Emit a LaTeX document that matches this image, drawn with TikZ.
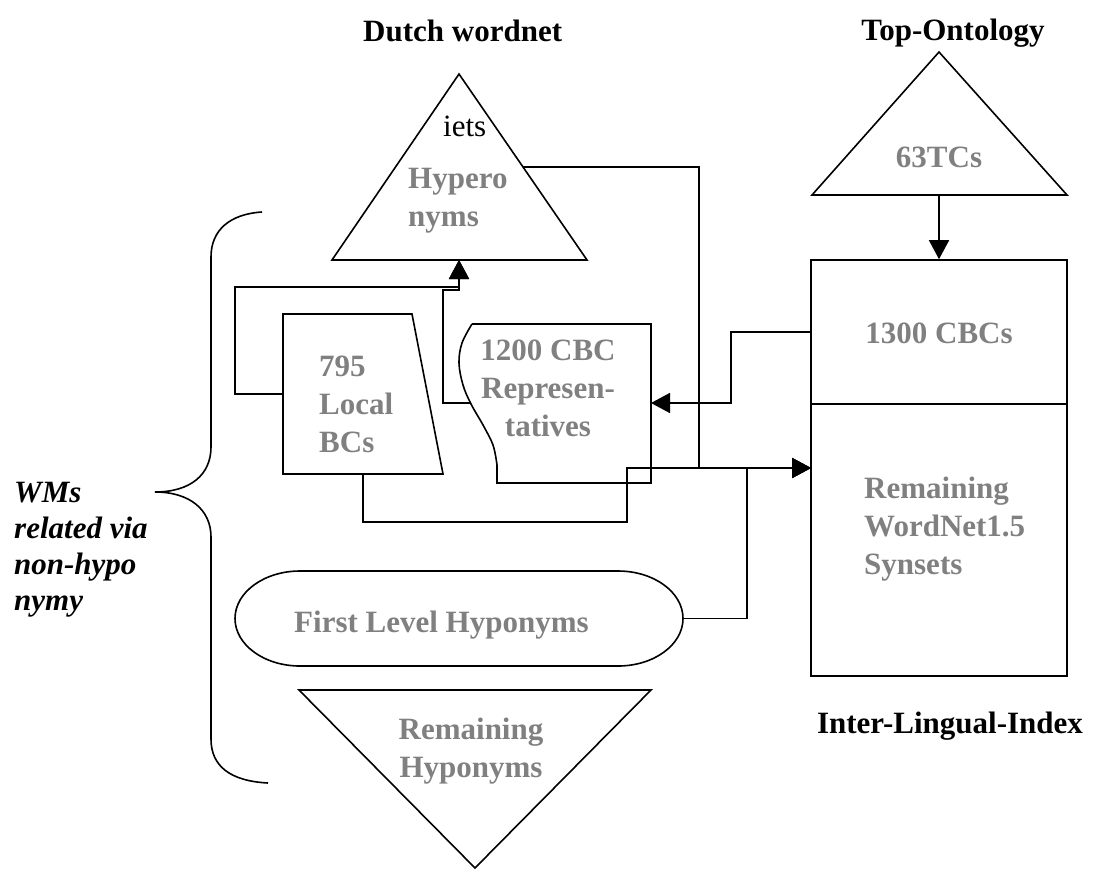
\documentclass[tikz,border=0pt]{standalone}
\usepackage{fontspec}
\setmainfont{Liberation Serif}
\usetikzlibrary{arrows.meta}
\definecolor{txtgray}{HTML}{808080}
\begin{document}
\begin{tikzpicture}[x=1pt,y=-1pt,
  shapeline/.style={draw=black, line width=1.6pt, line join=miter},
  conn/.style={draw=black, line width=1.6pt},
  arr/.style={conn, -{Triangle[length=19pt,width=20pt]}},
  lbl/.style={inner sep=0pt, font=\fontsize{31}{38}\selectfont\bfseries, text=txtgray},
  ttl/.style={inner sep=0pt, font=\fontsize{31}{38}\selectfont\bfseries, text=black},
  boxnode/.style={shapeline, rectangle, inner sep=0pt, minimum width=256pt}]
\useasboundingbox (0,0) rectangle (1099,870);

% titles
\node[ttl, anchor=base west] (tdutch) at (363,41) {Dutch wordnet};
\node[ttl, anchor=base] (ttop) at (953,40) {Top-Ontology};
\node[ttl, anchor=base] (tili) at (950,733) {Inter-Lingual-Index};

% Hyperonyms triangle
\coordinate (hypA) at (459,74);
\coordinate (hypL) at (332,260);
\coordinate (hypR) at (587,260);
\draw[shapeline] (hypA) -- (hypR) -- (hypL) -- cycle;
\coordinate (hypOut) at (523,167);
\coordinate (hypIn) at (459,260);
\node[inner sep=0pt, anchor=base west, font=\fontsize{31}{38}\selectfont] (iets) at (443,136) {iets};
\node[lbl, anchor=base west, align=left] (hyptxt) at (408,226) {Hypero\\nyms};

% Top ontology triangle
\coordinate (tcA) at (939,52);
\coordinate (tcL) at (812,195);
\coordinate (tcR) at (1067,195);
\draw[shapeline] (tcA) -- (tcR) -- (tcL) -- cycle;
\coordinate (tcOut) at (939,195);
\node[lbl, anchor=base] (tctxt) at (939,167) {63TCs};

% ILI boxes
\node[boxnode, minimum height=144pt] (cbcs) at (939,332) {};
\node[boxnode, minimum height=272pt] (remili) at (939,540) {};
\node[lbl, anchor=base] (cbcstxt) at (939,343) {1300 CBCs};
\node[lbl, anchor=base west, align=left] (remilitxt) at (864,574) {Remaining\\WordNet1.5\\Synsets};
\coordinate (remIn) at (811,468);

% 795 Local BCs trapezoid
\coordinate (lbTL) at (283,314);
\coordinate (lbTR) at (412,314);
\coordinate (lbBR) at (443,474);
\coordinate (lbBL) at (283,474);
\draw[shapeline] (lbTL) -- (lbTR) -- (lbBR) -- (lbBL) -- cycle;
\coordinate (lbW) at (283,394);
\coordinate (lbS) at (363,474);
\node[lbl, anchor=base west, align=left] (lbtxt) at (319,452) {795\\Local\\BCs};

% 1200 CBC representatives (document-like shape)
\draw[shapeline] (472,324) -- (651,324) -- (651,483) -- (497,483) -- (497,465)
  plot[smooth, tension=0.6] coordinates {(497,465) (493,445) (483,425) (471,404) (463,385) (459,363) (462,343) (472,324)};
\coordinate (repW) at (470,403);
\coordinate (repE) at (651,403);
\node[lbl, anchor=base, align=center] (reptxt) at (548,436) {1200 CBC\\Represen-\\tatives};

% First level hyponyms (stadium)
\draw[shapeline] (300,571) -- (618,571)
  arc[start angle=-90, end angle=90, x radius=65, y radius=47.5]
  -- (300,666)
  arc[start angle=90, end angle=270, x radius=65, y radius=47.5] -- cycle;
\coordinate (flE) at (683,618.5);
\node[lbl, anchor=base west] (fltxt) at (294,632) {First Level Hyponyms};

% Remaining hyponyms triangle
\coordinate (rhL) at (299,690);
\coordinate (rhR) at (651,690);
\coordinate (rhA) at (475,868);
\draw[shapeline] (rhL) -- (rhR) -- (rhA) -- cycle;
\node[lbl, anchor=base, align=center] (rhtxt) at (471,777) {Remaining\\Hyponyms};

% brace
\draw[conn] (262,212) .. controls (230,214) and (211,230) .. (211,257)
  -- (211,447) .. controls (211,475) and (190,492) .. (155,492)
  .. controls (190,492) and (211,510) .. (211,537)
  -- (211,739) .. controls (211,766) and (230,781) .. (268,783);
\node[inner sep=0pt, anchor=base west, align=left,
  font=\fontsize{31}{36}\selectfont\bfseries\itshape] (wms) at (14,610) {WMs\\related via\\non-hypo\\nymy};

% connectors
\draw[arr] (hypOut) -- (699,167) -- (699,468) -- (remIn);
\draw[arr] (lbS) -- (363,522) -- (627,522) -- (627,468) -- (remIn);
\draw[arr] (flE) -- (747,618.5) -- (747,468) -- (remIn);
\draw[arr] (lbW) -- (235,394) -- (235,287) -- (459,287) -- (hypIn);
\draw[arr] (repW) -- (443,403) -- (443,290) -- (459,290) -- (hypIn);
\draw[arr] (tcOut) -- (cbcs.north);
\draw[arr] (cbcs.west) -- (731,332) -- (731,403) -- (repE);
\end{tikzpicture}
\end{document}
